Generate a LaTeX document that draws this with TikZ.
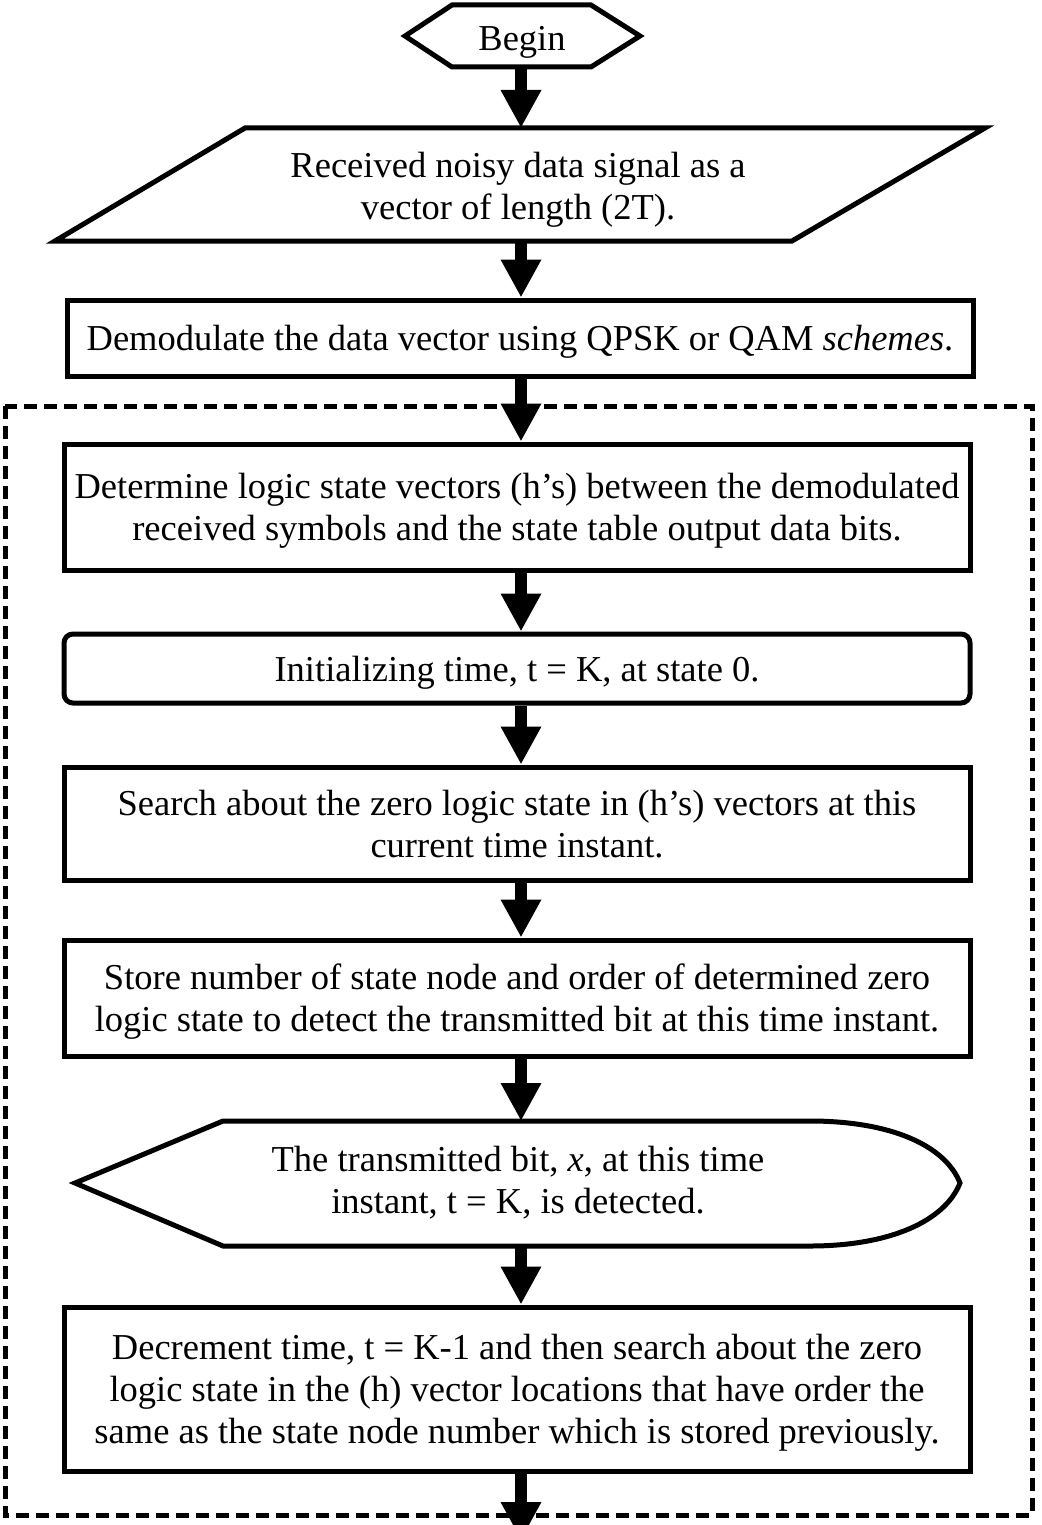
\documentclass[tikz,border=0pt]{standalone}
\usepackage{fontspec}
\setmainfont{Liberation Serif}
\usetikzlibrary{arrows.meta}
\tikzset{
  shapeline/.style={line width=5pt, line join=miter},
  procbox/.style={draw, line width=5pt, minimum width=906pt, inner sep=0pt, align=center, text depth=0pt},
  txt/.style={inner sep=0pt, align=center, text depth=0pt},
  flowarr/.style={line width=12pt, -{Triangle[width=38pt,length=38pt]}},
  dashbox/.style={line width=5pt, dash pattern=on 13pt off 7pt},
}
\begin{document}
\begin{tikzpicture}[x=1pt,y=-1pt,font=\fontsize{36.5}{42}\selectfont]
\useasboundingbox (0,0) rectangle (1041,1525);
% dashed frame
\draw[dashbox] (5,406) rectangle (1032,1515);
% Begin hexagon
\draw[shapeline] (405,36) -- (452,5) -- (591,5) -- (640,36) -- (591,67) -- (452,67) -- cycle;
\node[txt] (begin) at (522,38) {Begin};
\coordinate (beginS) at (521,67);
% parallelogram
\draw[shapeline] (245,128) -- (985,128) -- (792,241) -- (55,241) -- cycle;
\node[txt] (recv) at (518,186) {Received noisy data signal as a\\vector of length (2T).};
\coordinate (recvN) at (521,128);
\coordinate (recvS) at (521,241);
% boxes
\node[procbox, minimum height=76pt] (demod) at (520,338) {Demodulate the data vector using QPSK or QAM \textit{schemes}.};
\node[procbox, minimum height=126pt] (det) at (517,507) {Determine logic state vectors (h’s) between the demodulated\\received symbols and the state table output data bits.};
\node[procbox, minimum height=69pt, rounded corners=9pt] (init) at (517,668.5) {Initializing time, t = K, at state 0.};
\node[procbox, minimum height=113pt] (search) at (517,823.5) {Search about the zero logic state in (h’s) vectors at this\\current time instant.};
\node[procbox, minimum height=116pt] (store) at (517,998) {Store number of state node and order of determined zero\\logic state to detect the transmitted bit at this time instant.};
% display shape
\draw[shapeline] (223,1121) -- (810,1121) .. controls (890,1121) and (945,1145) .. (960,1183)
  .. controls (945,1221) and (890,1246) .. (810,1246) -- (223,1246) -- (75,1183) -- cycle;
\node[txt] (disp) at (518,1180) {The transmitted bit, \textit{x}, at this time\\instant, t = K, is detected.};
\coordinate (dispN) at (521,1121);
\coordinate (dispS) at (521,1246);
\node[procbox, minimum height=164pt] (dec) at (517,1389) {Decrement time, t = K-1 and then search about the zero\\logic state in the (h) vector locations that have order the\\same as the state node number which is stored previously.};
\coordinate (endpt) at (521,1540);
% connectors
\draw[flowarr] (beginS) -- (recvN);
\draw[flowarr] (recvS) -- (demod.north -| recvS);
\draw[flowarr] (demod.south -| recvS) -- (det.north -| recvS);
\draw[flowarr] (det.south -| recvS) -- (init.north -| recvS);
\draw[flowarr] (init.south -| recvS) -- (search.north -| recvS);
\draw[flowarr] (search.south -| recvS) -- (store.north -| recvS);
\draw[flowarr] (store.south -| recvS) -- (dispN);
\draw[flowarr] (dispS) -- (dec.north -| recvS);
\draw[flowarr] (dec.south -| recvS) -- (endpt);
\end{tikzpicture}
\end{document}
